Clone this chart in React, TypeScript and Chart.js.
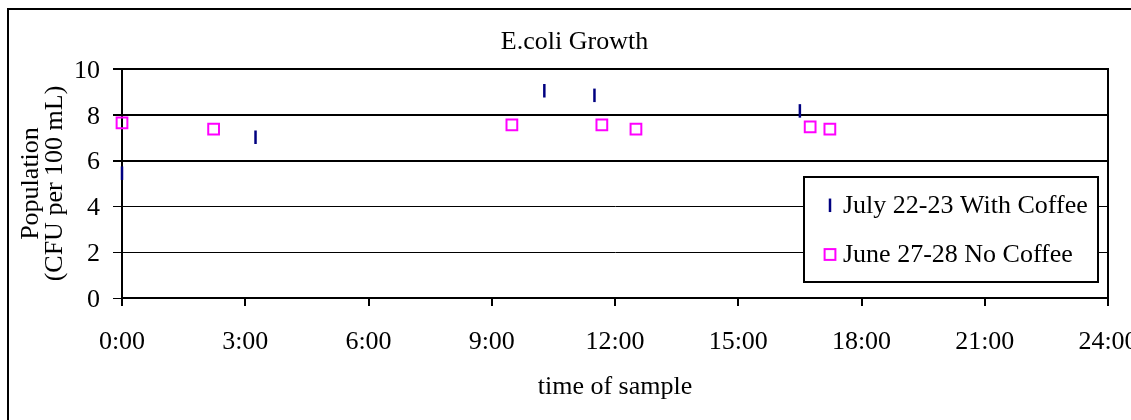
import { useEffect, useRef } from 'react';
import { Chart, registerables } from 'chart.js';

Chart.register(...registerables);

// Sample times (hours after start) and log population readings
const coffeeHours = [0, 3.25, 10.28, 11.5, 16.5];
const coffeePopulation = [5.45, 7.02, 9.05, 8.85, 8.17];
const noCoffeeHours = [0, 2.23, 9.49, 11.68, 12.51, 16.75, 17.23];
const noCoffeePopulation = [7.65, 7.37, 7.56, 7.56, 7.37, 7.47, 7.37];

const hourTickLabels = ['0:00', '3:00', '6:00', '9:00', '12:00', '15:00', '18:00', '21:00', '24:00'];
const seriesLabels = ['July 22-23 With Coffee', 'June 27-28 No Coffee'];

const FAMILY = "'Liberation Serif', 'Times New Roman', Times, serif";
const NAVY = '#000080';
const MAGENTA = '#FF00FF';
const W = 1135;
const H = 432;
const SIDE_PAD = 34;

const toPoints = (xs: number[], ys: number[]) => xs.map((x, i) => ({ x, y: ys[i] }));

// Plot-area right edge, outer frame and the boxed legend inside the plot
const framePlugin = {
  id: 'frame',
  beforeDatasetsDraw(chart: any) {
    const { ctx, chartArea: a } = chart;
    ctx.save();
    ctx.strokeStyle = '#000';
    ctx.lineWidth = 2;
    ctx.beginPath();
    ctx.moveTo(a.right, a.top - 1);
    ctx.lineTo(a.right, a.bottom);
    ctx.stroke();
    ctx.restore();
  },
  afterDraw(chart: any) {
    const { ctx, chartArea: a } = chart;
    ctx.save();
    ctx.strokeStyle = '#000';
    ctx.lineWidth = 2;
    ctx.strokeRect(1, 1, chart.width - 2, chart.height - 2);

    const left = a.right - 304;
    const top = a.top + 108;
    const right = a.right - 10;
    const bottom = a.bottom - 16;
    ctx.fillStyle = '#fff';
    ctx.fillRect(left, top, right - left, bottom - top);
    ctx.strokeRect(left, top, right - left, bottom - top);

    const ds = chart.data.datasets;
    // first entry: short vertical dash
    ctx.strokeStyle = NAVY;
    ctx.lineWidth = 2.5;
    ctx.beginPath();
    ctx.moveTo(left + 26, top + 28.3 - 6.75);
    ctx.lineTo(left + 26, top + 28.3 + 6.75);
    ctx.stroke();
    // second entry: hollow square
    ctx.strokeStyle = MAGENTA;
    ctx.lineWidth = 2;
    ctx.strokeRect(left + 26 - 5.4, top + 77.5 - 5.4, 10.8, 10.8);

    ctx.fillStyle = '#000';
    ctx.font = `26px ${FAMILY}`;
    ctx.textAlign = 'left';
    ctx.textBaseline = 'alphabetic';
    ctx.fillText(ds[0].label, left + 39, top + 36);
    ctx.fillText(ds[1].label, left + 39, top + 84.7);
    ctx.restore();
  },
};

export default function App() {
  const canvasRef = useRef<HTMLCanvasElement | null>(null);

  useEffect(() => {
    const canvas = canvasRef.current;
    if (!canvas) return;
    const font = { family: FAMILY, size: 26, weight: 'normal' as const };

    const chart = new Chart(canvas, {
      type: 'scatter',
      data: {
        datasets: [
          {
            label: seriesLabels[0],
            data: toPoints(coffeeHours, coffeePopulation),
            pointStyle: 'line',
            rotation: 90,
            pointRadius: 6.75,
            borderColor: NAVY,
            backgroundColor: NAVY,
            borderWidth: 2.5,
            clip: false,
          } as any,
          {
            label: seriesLabels[1],
            data: toPoints(noCoffeeHours, noCoffeePopulation),
            pointStyle: 'rect',
            pointRadius: 7.6,
            borderColor: MAGENTA,
            backgroundColor: 'rgba(0,0,0,0)',
            borderWidth: 2,
            clip: false,
          } as any,
        ],
      },
      options: {
        animation: false,
        responsive: false,
        devicePixelRatio: 1,
        events: [],
        layout: { padding: { left: SIDE_PAD, right: SIDE_PAD, top: 0, bottom: 0 } },
        plugins: {
          legend: { display: false },
          tooltip: { enabled: false },
          title: {
            display: true,
            text: 'E.coli Growth',
            color: '#000',
            font: { ...font },
            padding: { top: 18.8, bottom: 11 },
          },
        },
        scales: {
          x: {
            type: 'linear',
            min: 0,
            max: 24,
            afterFit: (s: any) => {
              s.height = 142;
              s.paddingLeft = 0;
              s.paddingRight = 0;
            },
            ticks: {
              stepSize: 3,
              autoSkip: false,
              maxRotation: 0,
              color: '#000',
              font: { ...font },
              padding: 20.6,
              callback: (v: any) => hourTickLabels[Math.round(Number(v) / 3)],
            },
            grid: {
              drawOnChartArea: false,
              drawTicks: true,
              tickLength: 8,
              color: '#000',
              lineWidth: 2,
            },
            border: { display: true, color: '#000', width: 2 },
            title: {
              display: true,
              text: 'time of sample',
              color: '#000',
              font: { ...font },
              padding: { top: 0, bottom: 37.2 },
            },
          },
          y: {
            type: 'linear',
            min: 0,
            max: 10,
            afterFit: (s: any) => {
              s.width = 115 - SIDE_PAD;
            },
            ticks: {
              stepSize: 2,
              color: '#000',
              font: { ...font },
              padding: 13,
              labelOffset: 2,
            },
            grid: {
              color: '#000',
              tickLength: 9,
              lineWidth: (c: any) => (c.tick && c.tick.value >= 6 ? 2 : 1),
            },
            border: { display: true, color: '#000', width: 2 },
            title: {
              display: true,
              text: ['Population', '(CFU per 100 mL)'],
              color: '#000',
              font: { ...font, lineHeight: 0.94 },
              padding: { top: 11.9 - SIDE_PAD, bottom: 0 },
            },
          },
        },
      },
      plugins: [framePlugin],
    });

    return () => chart.destroy();
  }, []);

  return (
    <div style={{ position: 'fixed', left: 7, top: 8, width: 1124, height: 412, overflow: 'hidden' }}>
      <canvas ref={canvasRef} width={W} height={H} style={{ width: W, height: H, display: 'block' }} />
    </div>
  );
}
